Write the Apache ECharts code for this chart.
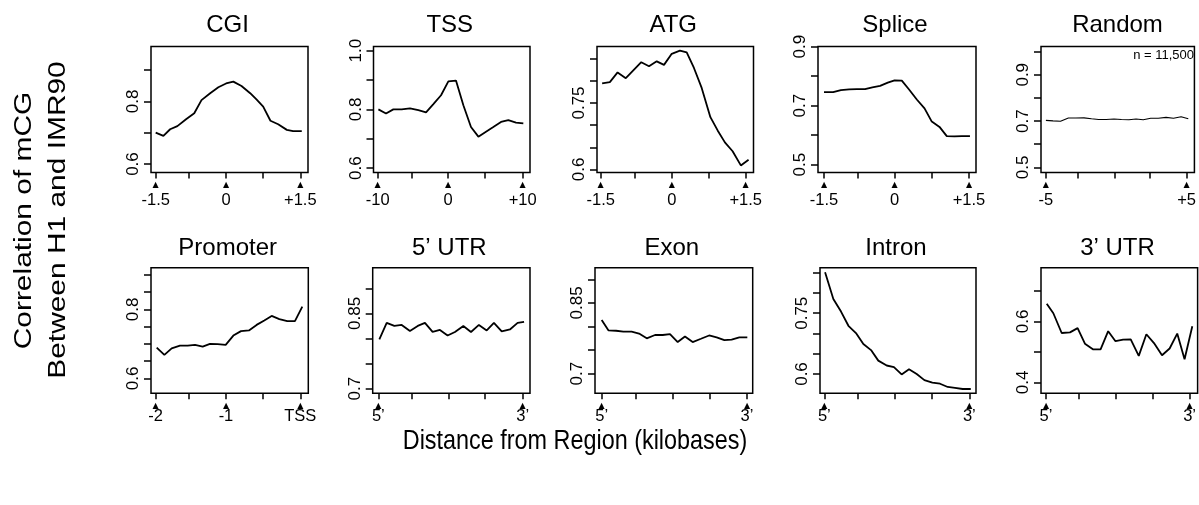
<!DOCTYPE html>
<html><head><meta charset="utf-8">
<script src="https://cdn.jsdelivr.net/npm/echarts@6/dist/echarts.min.js"></script>
<style>html,body{margin:0;padding:0;background:#fff}#c{width:1199px;height:505px}</style>
</head><body><div id="c"></div>
<script>
// ---------- DATA ----------
const panelTitles = ['CGI', 'TSS', 'ATG', 'Splice', 'Random', 'Promoter', '5’ UTR', 'Exon', 'Intron', '3’ UTR'];

const cgiX = [-1.5, -1.34, -1.2, -1.05, -0.87, -0.7, -0.55, -0.37, -0.2, -0.04, 0.11, 0.28, 0.46, 0.59, 0.73, 0.88, 1.04, 1.22, 1.35, 1.53];
const cgiY = [0.700, 0.690, 0.711, 0.721, 0.743, 0.762, 0.804, 0.826, 0.845, 0.857, 0.863, 0.849, 0.826, 0.806, 0.783, 0.738, 0.727, 0.709, 0.705, 0.705];

const tssX = [-9.9, -8.85, -7.84, -6.69, -5.54, -4.39, -3.33, -2.32, -1.26, -0.25, 0.80, 1.82, 2.87, 3.89, 4.94, 5.95, 7.01, 8.02, 9.08, 10.09];
const tssY = [0.800, 0.786, 0.800, 0.800, 0.803, 0.797, 0.790, 0.818, 0.848, 0.895, 0.898, 0.814, 0.740, 0.707, 0.724, 0.740, 0.757, 0.763, 0.755, 0.752];

const atgX = [-1.47, -1.31, -1.15, -0.98, -0.82, -0.66, -0.50, -0.34, -0.19, -0.03, 0.14, 0.28, 0.43, 0.59, 0.77, 0.92, 1.07, 1.23, 1.40, 1.56];
const atgY = [0.794, 0.797, 0.819, 0.806, 0.824, 0.842, 0.833, 0.844, 0.836, 0.861, 0.868, 0.864, 0.829, 0.784, 0.718, 0.688, 0.661, 0.641, 0.609, 0.622];

const spliceX = [-1.5, -1.31, -1.15, -0.98, -0.82, -0.65, -0.50, -0.34, -0.18, -0.04, 0.11, 0.26, 0.42, 0.58, 0.73, 0.89, 1.04, 1.2, 1.35, 1.52];
const spliceY = [0.746, 0.746, 0.753, 0.755, 0.756, 0.756, 0.762, 0.767, 0.778, 0.786, 0.785, 0.755, 0.721, 0.691, 0.646, 0.628, 0.597, 0.596, 0.597, 0.597];

const randomX = [-5, -4.49, -3.96, -3.4, -2.87, -2.29, -1.76, -1.25, -0.72, -0.16, 0.37, 0.9, 1.41, 1.92, 2.45, 2.99, 3.54, 4.07, 4.61, 5.12];
const randomY = [0.703, 0.701, 0.699, 0.713, 0.713, 0.714, 0.710, 0.707, 0.707, 0.709, 0.707, 0.706, 0.709, 0.706, 0.712, 0.712, 0.716, 0.712, 0.719, 0.710];

const promoterX = [-1.986, -1.880, -1.779, -1.664, -1.558, -1.456, -1.350, -1.249, -1.143, -1.032, -0.926, -0.820, -0.710, -0.604, -0.498, -0.396, -0.290, -0.180, -0.074, 0.028];
const promoterY = [0.689, 0.668, 0.687, 0.695, 0.695, 0.697, 0.692, 0.700, 0.699, 0.697, 0.724, 0.737, 0.739, 0.755, 0.768, 0.781, 0.772, 0.766, 0.766, 0.808];

const utr5X = [0.007, 0.058, 0.111, 0.162, 0.219, 0.273, 0.323, 0.376, 0.427, 0.480, 0.531, 0.589, 0.642, 0.697, 0.751, 0.801, 0.855, 0.912, 0.965, 1.01];
const utr5Y = [0.798, 0.831, 0.825, 0.827, 0.815, 0.825, 0.831, 0.813, 0.817, 0.806, 0.813, 0.825, 0.813, 0.827, 0.816, 0.831, 0.814, 0.818, 0.831, 0.833];

const exonX = [0, 0.046, 0.099, 0.149, 0.206, 0.257, 0.310, 0.367, 0.420, 0.470, 0.523, 0.573, 0.626, 0.683, 0.739, 0.791, 0.844, 0.894, 0.947, 1.002];
const exonY = [0.814, 0.792, 0.791, 0.789, 0.789, 0.785, 0.775, 0.782, 0.782, 0.784, 0.767, 0.779, 0.767, 0.774, 0.781, 0.777, 0.771, 0.772, 0.777, 0.777];

const intronX = [0.005, 0.062, 0.115, 0.166, 0.218, 0.269, 0.322, 0.372, 0.430, 0.480, 0.533, 0.584, 0.637, 0.690, 0.745, 0.798, 0.851, 0.901, 0.954, 1.01];
const intronY = [0.851, 0.785, 0.754, 0.719, 0.701, 0.674, 0.659, 0.633, 0.621, 0.617, 0.599, 0.612, 0.600, 0.585, 0.579, 0.576, 0.568, 0.566, 0.563, 0.563];

const utr3X = [0.005, 0.051, 0.109, 0.167, 0.220, 0.271, 0.329, 0.380, 0.433, 0.484, 0.537, 0.590, 0.646, 0.699, 0.752, 0.808, 0.861, 0.914, 0.965, 1.019];
const utr3Y = [0.658, 0.627, 0.562, 0.564, 0.578, 0.527, 0.508, 0.508, 0.568, 0.535, 0.540, 0.541, 0.487, 0.558, 0.529, 0.489, 0.511, 0.560, 0.476, 0.584];

// x tick positions and labels ('' = tick without label)
const cgiXTicks = [-1.5, -0.82, -0.04, 0.73, 1.5];
const tssXTicks = [-10, -5.31, -0.28, 4.78, 10];
const atgXTicks = [-1.5, -0.79, -0.03, 0.73, 1.5];
const spliceXTicks = [-1.5, -0.8, -0.04, 0.73, 1.5];
const randomXTicks = [-5, -2.71, -0.14, 2.41, 5];
const promoterXTicks = [-2, -1.544, -1.028, -0.516, 0];
const utr5XTicks = [0, 0.231, 0.485, 0.739, 1];
const exonXTicks = [0, 0.234, 0.486, 0.741, 1];
const intronXTicks = [0, 0.228, 0.483, 0.740, 1];
const utr3XTicks = [0, 0.229, 0.484, 0.741, 1];

const kbLabels15 = ['-1.5', '', '0', '', '+1.5'];
const tssXLabels = ['-10', '', '0', '', '+10'];
const randomXLabels = ['-5', '', '', '', '+5'];
const promoterXLabels = ['-2', '', '-1', '', 'TSS'];
const endLabels = ['5’', '', '', '', '3’'];

// y ticks and labels
const cgiYTicks = [0.6, 0.7, 0.8, 0.9];            const cgiYLabels = ['0.6', '', '0.8', ''];
const tssYTicks = [0.6, 0.7, 0.8, 0.9, 1.0];       const tssYLabels = ['0.6', '', '0.8', '', '1.0'];
const atgYTicks = [0.6, 0.65, 0.7, 0.75, 0.8, 0.85]; const atgYLabels = ['0.6', '', '', '0.75', '', ''];
const spliceYTicks = [0.5, 0.6, 0.7, 0.8, 0.9];    const spliceYLabels = ['0.5', '', '0.7', '', '0.9'];
const randomYTicks = [0.5, 0.6, 0.7, 0.8, 0.9, 1.0]; const randomYLabels = ['0.5', '', '0.7', '', '0.9', ''];
const promoterYTicks = [0.6, 0.65, 0.7, 0.75, 0.8, 0.85, 0.9]; const promoterYLabels = ['0.6', '', '', '', '0.8', '', ''];
const utr5YTicks = [0.7, 0.75, 0.8, 0.85, 0.9];    const utr5YLabels = ['0.7', '', '', '0.85', ''];
const exonYTicks = [0.7, 0.75, 0.8, 0.85, 0.9];    const exonYLabels = ['0.7', '', '', '0.85', ''];
const intronYTicks = [0.6, 0.65, 0.7, 0.75, 0.8, 0.85]; const intronYLabels = ['0.6', '', '', '0.75', '', ''];
const utr3YTicks = [0.4, 0.5, 0.6, 0.7];           const utr3YLabels = ['0.4', '', '0.6', ''];

const nLabel = 'n = 11,500';
const yTitle1 = 'Correlation of mCG';
const yTitle2 = 'Between H1 and IMR90';
const xTitle = 'Distance from Region (kilobases)';

// ---------- LAYOUT ----------
const FONT = '"Liberation Sans", Arial, Helvetica, sans-serif';
const panels = [
  {x: cgiX, y: cgiY, xt: cgiXTicks, xl: kbLabels15, yt: cgiYTicks, yl: cgiYLabels, left: 151, top: 46.5, w: 157, h: 126, xMin: -1.597, xMax: 1.659, yMin: 0.573, yMax: 0.975},
  {x: tssX, y: tssY, xt: tssXTicks, xl: tssXLabels, yt: tssYTicks, yl: tssYLabels, left: 373.5, top: 46.5, w: 156.5, h: 126, xMin: -10.575, xMax: 11.01, yMin: 0.585, yMax: 1.014},
  {x: atgX, y: atgY, xt: atgXTicks, xl: kbLabels15, yt: atgYTicks, yl: atgYLabels, left: 597, top: 46.5, w: 156.5, h: 126, xMin: -1.576, xMax: 1.662, yMin: 0.593, yMax: 0.8775},
  {x: spliceX, y: spliceY, xt: spliceXTicks, xl: kbLabels15, yt: spliceYTicks, yl: spliceYLabels, left: 818, top: 46.5, w: 158, h: 126, xMin: -1.624, xMax: 1.645, yMin: 0.4735, yMax: 0.9006},
  {x: randomX, y: randomY, xt: randomXTicks, xl: randomXLabels, yt: randomYTicks, yl: randomYLabels, left: 1041, top: 46.5, w: 157, h: 126, xMin: -5.347, xMax: 5.556, yMin: 0.478, yMax: 1.022, thin: true},
  {x: promoterX, y: promoterY, xt: promoterXTicks, xl: promoterXLabels, yt: promoterYTicks, yl: promoterYLabels, left: 151, top: 267.7, w: 157.3, h: 125.6, xMin: -2.065, xMax: 0.111, yMin: 0.5565, yMax: 0.921},
  {x: utr5X, y: utr5Y, xt: utr5XTicks, xl: endLabels, yt: utr5YTicks, yl: utr5YLabels, left: 372.7, top: 267.7, w: 157.3, h: 125.6, xMin: -0.039, xMax: 1.051, yMin: 0.6908, yMax: 0.941},
  {x: exonX, y: exonY, xt: exonXTicks, xl: endLabels, yt: exonYTicks, yl: exonYLabels, left: 595, top: 267.7, w: 157.7, h: 125.6, xMin: -0.046, xMax: 1.039, yMin: 0.6584, yMax: 0.9247},
  {x: intronX, y: intronY, xt: intronXTicks, xl: endLabels, yt: intronYTicks, yl: intronYLabels, left: 820, top: 267.7, w: 156, h: 125.6, xMin: -0.030, xMax: 1.046, yMin: 0.5524, yMax: 0.8623},
  {x: utr3X, y: utr3Y, xt: utr3XTicks, xl: endLabels, yt: utr3YTicks, yl: utr3YLabels, left: 1041, top: 267.7, w: 157, h: 125.6, xMin: -0.035, xMax: 1.056, yMin: 0.3639, yMax: 0.7766}
];

function lookup(ticks, labels) {
  return function (v) {
    for (let k = 0; k < ticks.length; k++) if (Math.abs(ticks[k] - v) < 1e-6) return labels[k];
    return '';
  };
}

const grid = [], xAxis = [], yAxis = [], series = [], title = [];
panels.forEach((p, i) => {
  const top = i < 5;
  grid.push({left: p.left, top: p.top, width: p.w, height: p.h, show: true, borderColor: '#000', borderWidth: 1.5, backgroundColor: 'transparent', containLabel: false});
  const xf = lookup(p.xt, p.xl);
  xAxis.push({
    gridIndex: i, type: 'value', min: p.xMin, max: p.xMax,
    axisLine: {show: false, onZero: false},
    splitLine: {show: false},
    axisTick: {show: true, customValues: p.xt, length: 6, lineStyle: {color: '#000', width: 1.5}},
    axisLabel: {
      show: true, customValues: p.xt.filter((v, k) => p.xl[k] !== ''),
      margin: top ? 5 : 9,
      formatter: v => '{t|▲}\n{v|' + xf(v) + '}',
      rich: {
        t: {fontSize: 8, lineHeight: top ? 14 : 8, fontFamily: 'DejaVu Sans', color: '#000'},
        v: {fontSize: 16.5, lineHeight: top ? 18 : 13, fontFamily: FONT, color: '#000'}
      }
    }
  });
  const yf = lookup(p.yt, p.yl);
  yAxis.push({
    gridIndex: i, type: 'value', min: p.yMin, max: p.yMax,
    axisLine: {show: false, onZero: false},
    splitLine: {show: false},
    axisTick: {show: true, customValues: p.yt, length: 7, lineStyle: {color: '#000', width: 1.5}},
    axisLabel: {show: true, customValues: p.yt.filter((v, k) => p.yl[k] !== ''), rotate: 90, margin: 9,
      fontSize: 17, fontFamily: FONT, color: '#000', formatter: yf}
  });
  series.push({
    type: 'line', xAxisIndex: i, yAxisIndex: i, symbol: 'none', showSymbol: false,
    data: p.x.map((v, k) => [v, p.y[k]]),
    lineStyle: {color: '#000', width: p.thin ? 1.1 : 1.8}, animation: false
  });
  title.push({
    text: panelTitles[i], left: p.left + p.w / 2 - 2, top: top ? 25 : 248,
    textAlign: 'center', textVerticalAlign: 'middle', padding: 0,
    textStyle: {fontSize: 24, fontWeight: 'normal', color: '#000', fontFamily: FONT}
  });
});

const chart = echarts.init(document.getElementById('c'), null, {renderer: 'canvas'});
chart.setOption({
  animation: false,
  backgroundColor: '#fff',
  title, grid, xAxis, yAxis, series,
  graphic: [
    {type: 'text', x: 1194, y: 55, style: {text: nLabel, fontSize: 13, fontFamily: FONT, fill: '#000', align: 'right', verticalAlign: 'middle', textAlign: 'right', textVerticalAlign: 'middle'}},
    {type: 'text', x: 25, y: 220.5, rotation: Math.PI / 2, scaleX: 1.3, scaleY: 1,
      style: {text: yTitle1, fontSize: 23, fontFamily: FONT, fill: '#000', align: 'center', verticalAlign: 'middle', textAlign: 'center', textVerticalAlign: 'middle'}},
    {type: 'text', x: 59, y: 220, rotation: Math.PI / 2, scaleX: 1.3, scaleY: 1,
      style: {text: yTitle2, fontSize: 23, fontFamily: FONT, fill: '#000', align: 'center', verticalAlign: 'middle', textAlign: 'center', textVerticalAlign: 'middle'}},
    {type: 'text', x: 575, y: 441, scaleX: 1, scaleY: 1.2,
      style: {text: xTitle, fontSize: 23.4, fontFamily: FONT, fill: '#000', align: 'center', verticalAlign: 'middle', textAlign: 'center', textVerticalAlign: 'middle'}}
  ]
});
</script></body></html>
